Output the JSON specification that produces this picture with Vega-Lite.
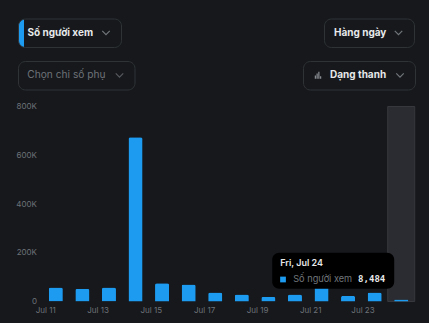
{
  "$schema": "https://vega.github.io/schema/vega-lite/v6.json",
  "background": "#16181c",
  "padding": {"top": 17.5, "left": 15, "right": 16, "bottom": 8},
  "datasets": {
    "views": [
      {"day": "Jul 11", "views": 57000},
      {"day": "Jul 12", "views": 52000},
      {"day": "Jul 13", "views": 57000},
      {"day": "Jul 14", "views": 674000},
      {"day": "Jul 15", "views": 75000},
      {"day": "Jul 16", "views": 70000},
      {"day": "Jul 17", "views": 37000},
      {"day": "Jul 18", "views": 29000},
      {"day": "Jul 19", "views": 19000},
      {"day": "Jul 20", "views": 29000},
      {"day": "Jul 21", "views": 62000},
      {"day": "Jul 22", "views": 23000},
      {"day": "Jul 23", "views": 37000},
      {"day": "Jul 24", "views": 8484}
    ],
    "hover": [
      {"day": "Jul 24", "title": "Fri, Jul 24", "series": "Số người xem", "views": 8484}
    ]
  },
  "spacing": 12.5,
  "vconcat": [
    {
      "spacing": 203,
      "bounds": "flush",
      "hconcat": [
        {
          "width": 103,
          "height": 28.5,
          "view": {
            "stroke": "#2f3336",
            "cornerRadius": 7,
            "fill": {
              "gradient": "linear", "x1": 0, "x2": 1, "y1": 0, "y2": 0,
              "stops": [
                {"offset": 0, "color": "#1d9bf0"},
                {"offset": 0.05, "color": "#1d9bf0"},
                {"offset": 0.0501, "color": "#16181c"},
                {"offset": 1, "color": "#16181c"}
              ]
            }
          },
          "data": {"values": [{"label": "Số người xem"}]},
          "layer": [
            {
              "mark": {"type": "text", "align": "left", "baseline": "middle", "dx": -42, "font": "Inter", "fontWeight": "bold", "fontSize": 10, "color": "#e7e9ea"},
              "encoding": {"text": {"field": "label"}}
            },
            {
              "mark": {"type": "point", "shape": "M-1,-0.5L0,0.5L1,-0.5", "filled": false, "stroke": "#71767b", "strokeWidth": 1.2, "size": 56, "xOffset": 36.5, "opacity": 1},
              "encoding": {}
            }
          ]
        },
        {
          "width": 90,
          "height": 28.5,
          "view": {"stroke": "#2f3336", "cornerRadius": 7},
          "data": {"values": [{"label": "Hàng ngày"}]},
          "layer": [
            {
              "mark": {"type": "text", "align": "left", "baseline": "middle", "dx": -35, "font": "Inter", "fontWeight": "bold", "fontSize": 10, "color": "#e7e9ea"},
              "encoding": {"text": {"field": "label"}}
            },
            {
              "mark": {"type": "point", "shape": "M-1,-0.5L0,0.5L1,-0.5", "filled": false, "stroke": "#71767b", "strokeWidth": 1.2, "size": 56, "xOffset": 29.5, "opacity": 1},
              "encoding": {}
            }
          ]
        }
      ]
    },
    {
      "spacing": 168,
      "bounds": "flush",
      "hconcat": [
        {
          "width": 116.5,
          "height": 28.5,
          "view": {"stroke": "#2f3336", "cornerRadius": 7},
          "data": {"values": [{"label": "Chọn chỉ số phụ"}]},
          "layer": [
            {
              "mark": {"type": "text", "align": "left", "baseline": "middle", "dx": -49, "font": "Inter", "fontSize": 10.2, "color": "#6e7278"},
              "encoding": {"text": {"field": "label"}}
            },
            {
              "mark": {"type": "point", "shape": "M-1,-0.5L0,0.5L1,-0.5", "filled": false, "stroke": "#55595e", "strokeWidth": 1.2, "size": 56, "xOffset": 43.25, "opacity": 1},
              "encoding": {}
            }
          ]
        },
        {
          "width": 112,
          "height": 28.5,
          "view": {"stroke": "#2f3336", "cornerRadius": 7},
          "data": {"values": [{"label": "Dạng thanh"}]},
          "layer": [
            {
              "mark": {"type": "text", "align": "left", "baseline": "middle", "dx": -29, "font": "Inter", "fontWeight": "bold", "fontSize": 10, "color": "#e7e9ea"},
              "encoding": {"text": {"field": "label"}}
            },
            {
              "mark": {"type": "point", "shape": "M-0.75,1V0.1M-0.25,1V-0.5M0.25,1V-1M0.75,1V0.3", "filled": false, "stroke": "#8b9095", "strokeWidth": 1.2, "size": 49, "xOffset": -41, "opacity": 1},
              "encoding": {}
            },
            {
              "mark": {"type": "point", "shape": "M-1,-0.5L0,0.5L1,-0.5", "filled": false, "stroke": "#71767b", "strokeWidth": 1.2, "size": 56, "xOffset": 41, "opacity": 1},
              "encoding": {}
            }
          ]
        }
      ]
    },
    {
      "width": 396.5,
      "height": 195,
      "layer": [
        {
          "data": {"name": "hover"},
          "mark": {"type": "bar", "width": 27, "fill": "#2b2c31", "stroke": "#36383d", "strokeWidth": 1},
          "encoding": {
            "x": {"field": "day", "type": "ordinal"},
            "y": {"datum": 800000, "type": "quantitative"},
            "y2": {"datum": 0}
          }
        },
        {
          "data": {"name": "views"},
          "mark": {"type": "bar", "color": "#1d9bf0", "cornerRadiusEnd": 2},
          "encoding": {
            "x": {
              "field": "day", "type": "ordinal", "sort": null,
              "scale": {"type": "band", "paddingInner": 0.47, "paddingOuter": 0.235, "range": [24.5, 396.5]},
              "axis": {
                "values": ["Jul 11", "Jul 13", "Jul 15", "Jul 17", "Jul 19", "Jul 21", "Jul 23"],
                "labelAngle": 0, "domain": false, "ticks": false, "grid": false, "title": null,
                "labelColor": "#6e7278", "labelFont": "Inter", "labelFontSize": 8, "labelPadding": 9
              }
            },
            "y": {
              "field": "views", "type": "quantitative",
              "scale": {"domain": [0, 800000], "nice": false},
              "axis": {
                "values": [0, 200000, 400000, 600000, 800000],
                "labelExpr": "datum.value == 0 ? '0' : format(datum.value / 1000, 'd') + 'K'",
                "domain": false, "ticks": false, "title": null, "offset": -24.5,
                "gridColor": "#2a2c31", "gridWidth": 1,
                "labelColor": "#6e7278", "labelFont": "Inter", "labelFontSize": 8, "labelPadding": 6
              }
            }
          }
        },
        {
          "data": {"name": "hover"},
          "mark": {"type": "bar", "width": 122, "xOffset": -68, "fill": "#000000", "cornerRadius": 7},
          "encoding": {
            "x": {"field": "day", "type": "ordinal"},
            "y": {"datum": 199800, "type": "quantitative"},
            "y2": {"datum": 52100}
          }
        },
        {
          "data": {"name": "hover"},
          "mark": {"type": "text", "align": "left", "baseline": "alphabetic", "xOffset": -121, "font": "Inter", "fontSize": 9, "fontWeight": 600, "color": "#e7e9ea"},
          "encoding": {
            "x": {"field": "day", "type": "ordinal"},
            "y": {"datum": 144800, "type": "quantitative"},
            "text": {"field": "title"}
          }
        },
        {
          "data": {"name": "hover"},
          "mark": {"type": "point", "shape": "square", "filled": true, "size": 33, "color": "#1d9bf0", "opacity": 1, "xOffset": -118.2},
          "encoding": {
            "x": {"field": "day", "type": "ordinal"},
            "y": {"datum": 90300, "type": "quantitative"}
          }
        },
        {
          "data": {"name": "hover"},
          "mark": {"type": "text", "align": "left", "baseline": "alphabetic", "xOffset": -108, "font": "Inter", "fontSize": 9.2, "color": "#71767b"},
          "encoding": {
            "x": {"field": "day", "type": "ordinal"},
            "y": {"datum": 79200, "type": "quantitative"},
            "text": {"field": "series"}
          }
        },
        {
          "data": {"name": "hover"},
          "mark": {"type": "text", "align": "right", "baseline": "alphabetic", "xOffset": -16, "font": "DejaVu Sans Mono", "fontSize": 9, "fontWeight": "bold", "color": "#e7e9ea"},
          "encoding": {
            "x": {"field": "day", "type": "ordinal"},
            "y": {"datum": 79200, "type": "quantitative"},
            "text": {"field": "views", "type": "quantitative", "format": ",d"}
          }
        }
      ]
    }
  ],
  "config": {
    "view": {"stroke": null},
    "font": "Inter"
  }
}
